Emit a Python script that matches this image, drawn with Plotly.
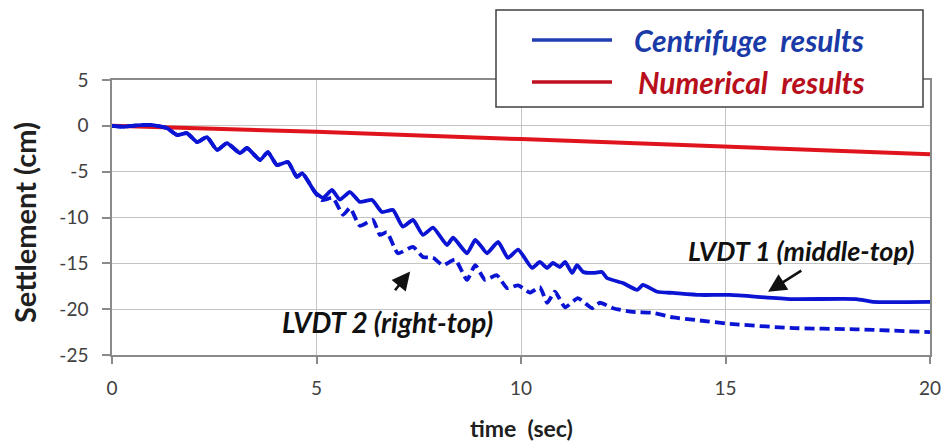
import plotly.graph_objects as go

# ---------------- data ----------------
time_lvdt1 = [0.0, 0.3, 0.6, 0.9, 1.1, 1.34, 1.59, 1.83, 2.08, 2.32, 2.57, 2.81, 3.13, 3.30,
              3.62, 3.81, 4.03, 4.30, 4.52, 4.65, 4.96, 5.16, 5.38, 5.57, 5.82, 6.06, 6.36,
              6.60, 6.87, 7.11, 7.36, 7.60, 7.85, 8.19, 8.34, 8.68, 8.88, 9.00, 9.17, 9.44,
              9.68, 9.93, 10.27, 10.46, 10.64, 10.78, 10.95, 11.08, 11.25, 11.37, 11.52,
              11.76, 11.98, 12.10, 12.49, 12.84, 12.98, 13.33, 13.72, 14.38, 15.11, 16.58,
              18.2, 18.6, 20.0]
settle_lvdt1 = [0.0, -0.1, 0.05, 0.1, 0.0, -0.24, -1.0, -0.79, -1.77, -1.22, -2.64, -1.88,
                -2.97, -2.42, -3.73, -2.86, -4.27, -3.95, -5.58, -5.15, -7.22, -7.87, -7.0,
                -8.05, -7.22, -8.3, -8.09, -9.4, -9.18, -11.0, -10.27, -11.9, -11.1, -13.0,
                -12.2, -13.9, -12.45, -13.0, -13.9, -12.67, -14.4, -13.5, -15.5, -14.85,
                -15.5, -14.96, -15.4, -14.85, -16.05, -15.2, -15.94, -16.05, -15.94, -16.6,
                -17.15, -17.9, -17.36, -18.1, -18.23, -18.45, -18.45, -18.9, -18.9, -19.2,
                -19.2]

time_lvdt2 = [0.0, 0.3, 0.6, 0.9, 1.1, 1.34, 1.59, 1.83, 2.08, 2.32, 2.57, 2.81, 3.13, 3.30,
              3.62, 3.81, 4.03, 4.30, 4.52, 4.65, 4.96, 5.13, 5.40, 5.65, 5.82, 6.06, 6.38,
              6.55, 6.72, 6.99, 7.36, 7.60, 7.85, 8.09, 8.39, 8.68, 8.88, 9.12, 9.41, 9.66,
              9.93, 10.22, 10.46, 10.64, 10.83, 11.08, 11.39, 11.74, 11.93, 12.25, 12.74,
              13.23, 13.72, 14.30, 15.11, 16.58, 18.2, 20.0]
settle_lvdt2 = [0.0, -0.1, 0.05, 0.1, 0.0, -0.24, -1.0, -0.79, -1.77, -1.22, -2.64, -1.88,
                -2.97, -2.42, -3.73, -2.86, -4.27, -3.95, -5.58, -5.15, -7.22, -8.1, -7.87,
                -9.7, -8.96, -10.9, -10.27, -11.9, -11.6, -13.9, -13.2, -14.3, -14.4, -15.2,
                -14.6, -16.8, -15.2, -16.8, -16.3, -17.7, -17.4, -18.2, -17.6, -19.3, -18.1,
                -19.8, -18.8, -19.9, -19.3, -19.9, -20.3, -20.4, -20.9, -21.2, -21.6, -22.05,
                -22.2, -22.5]

time_numerical = [0, 5, 10, 15, 20]
settle_numerical = [0.0, -0.65, -1.45, -2.25, -3.1]

x_ticks = [0, 5, 10, 15, 20]
y_ticks = [5, 0, -5, -10, -15, -20, -25]

legend_labels = ["Centrifuge&nbsp;&nbsp;results", "Numerical&nbsp;&nbsp;results"]
note_lvdt1 = "LVDT 1 (middle-top)"
note_lvdt2 = "LVDT 2 (right-top)"
x_title = "time&nbsp;&nbsp;(sec)"
y_title = "Settlement (cm)"

# ---------------- style ----------------
BLUE = "#0a14d2"
RED = "#e0141c"
FONT = "Lato"

fig = go.Figure()
fig.add_trace(go.Scatter(x=time_numerical, y=settle_numerical, mode="lines",
                         line=dict(color=RED, width=4), showlegend=False))
fig.add_trace(go.Scatter(x=time_lvdt2, y=settle_lvdt2, mode="lines",
                         line=dict(color=BLUE, width=3.8, dash="10px,5px",
                                   shape="spline", smoothing=0.5), showlegend=False))
fig.add_trace(go.Scatter(x=time_lvdt1, y=settle_lvdt1, mode="lines",
                         line=dict(color=BLUE, width=3.8, shape="spline", smoothing=0.5),
                         showlegend=False))

axis_common = dict(showgrid=True, gridcolor="#c4c4c4", gridwidth=1, zeroline=False,
                   showline=True, linecolor="#8a8a8a", linewidth=1.5, mirror=True,
                   ticks="outside", tickcolor="#8a8a8a", tickwidth=1.5, automargin=False,
                   tickfont=dict(family=FONT, size=19, color="#404040"))

fig.update_xaxes(range=[0, 20], tickvals=x_ticks, ticktext=[str(v) for v in x_ticks],
                 ticklen=7, ticklabelstandoff=8, **axis_common)
fig.update_yaxes(range=[-25, 5], tickvals=y_ticks, ticktext=[str(v) for v in y_ticks],
                 ticklen=8, ticklabelstandoff=10, **axis_common)

L, R, T, B = 112, 15, 80, 89
W, H = 945, 444
pw, ph = W - L - R, H - T - B


def px_x(p):
    return (p - L) / pw


def px_y(p):
    return (H - B - p) / ph


shapes = [
    dict(type="rect", xref="paper", yref="paper", x0=px_x(496), x1=px_x(923),
         y0=px_y(107), y1=px_y(10), fillcolor="white", line=dict(color="#404040", width=1.5),
         layer="above"),
    dict(type="line", xref="paper", yref="paper", x0=px_x(532), x1=px_x(612),
         y0=px_y(40), y1=px_y(40), line=dict(color="#1f3fb0", width=3.5), layer="above"),
    dict(type="line", xref="paper", yref="paper", x0=px_x(532), x1=px_x(612),
         y0=px_y(82), y1=px_y(82), line=dict(color="#c01020", width=3.5), layer="above"),
]

annotations = [
    dict(xref="paper", yref="paper", x=px_x(632), y=px_y(40), xanchor="left", yanchor="middle",
         text="<b><i>" + legend_labels[0] + "</i></b>", showarrow=False,
         font=dict(family=FONT, size=30, color="#1a3aa8")),
    dict(xref="paper", yref="paper", x=px_x(636), y=px_y(82), xanchor="left", yanchor="middle",
         text="<b><i>" + legend_labels[1] + "</i></b>", showarrow=False,
         font=dict(family=FONT, size=30, color="#b80f1c")),
    dict(x=16.85, y=-13.55, xref="x", yref="y", text="<b><i>" + note_lvdt1 + "</i></b>",
         showarrow=False, font=dict(family=FONT, size=27, color="#111111")),
    dict(x=6.74, y=-21.4, xref="x", yref="y", text="<b><i>" + note_lvdt2 + "</i></b>",
         showarrow=False, font=dict(family=FONT, size=28, color="#111111")),
    dict(x=16.04, y=-18.1, xref="x", yref="y", ax=16.89, ay=-15.7, axref="x", ayref="y",
         text="", showarrow=True, arrowhead=2, arrowsize=1.4, arrowwidth=2.6, arrowcolor="#111111"),
    dict(x=7.29, y=-15.9, xref="x", yref="y", ax=6.89, ay=-18.1, axref="x", ayref="y",
         text="", showarrow=True, arrowhead=2, arrowsize=1.4, arrowwidth=2.6, arrowcolor="#111111"),
    dict(xref="paper", yref="paper", x=px_x(521), y=px_y(428), xanchor="center",
         yanchor="middle", text="<b>" + x_title + "</b>", showarrow=False,
         font=dict(family=FONT, size=23, color="#202020")),
    dict(xref="paper", yref="paper", x=px_x(24), y=px_y(223), xanchor="center",
         yanchor="middle", text="<b>" + y_title + "</b>", showarrow=False, textangle=-90,
         font=dict(family=FONT, size=29, color="#202020")),
]

fig.update_layout(width=W, height=H, margin=dict(l=L, r=R, t=T, b=B, autoexpand=False),
                  paper_bgcolor="white", plot_bgcolor="white",
                  shapes=shapes, annotations=annotations, showlegend=False)

fig.write_html("out.html")
